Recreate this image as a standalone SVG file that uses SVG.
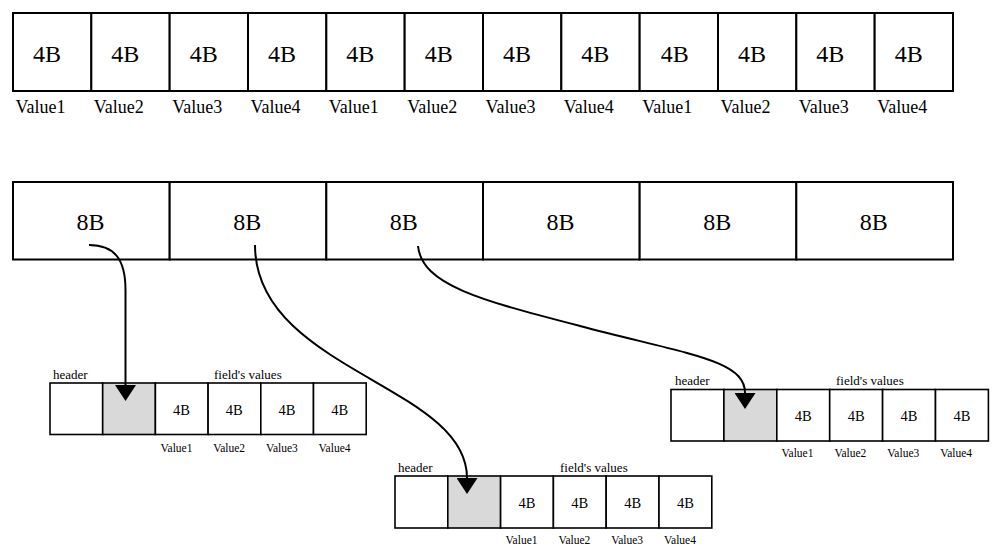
<svg xmlns="http://www.w3.org/2000/svg" width="1002" height="559" viewBox="0 0 1002 559" font-family="Liberation Serif, Times New Roman, serif">
<style>
.cell{fill:#fff;stroke:#000;stroke-width:2}
.sc{fill:#fff;stroke:#000;stroke-width:1.6}
.sg{fill:#d9d9d9;stroke:#000;stroke-width:1.6}
.big{font-size:24px;text-anchor:middle}
.lab{font-size:18px}
.sm{font-size:14.5px;text-anchor:middle}
.slab{font-size:11.5px}
.hd{font-size:13px}
.conn{fill:none;stroke:#000;stroke-width:2}
</style>
<defs>
<marker id="ah" markerUnits="userSpaceOnUse" markerWidth="17" markerHeight="21" viewBox="0 0 17 21" refX="0" refY="10.5" orient="auto">
<path d="M0,0 L16,10.5 L0,21 z" fill="#000"/>
</marker>
</defs>

<g id="row4B">
<g id="c4-1"><rect class="cell" x="13" y="13" width="78.33" height="78"/><text class="big" x="47" y="62">4B</text><text class="lab" x="15.5" y="113">Value1</text></g>
<g id="c4-2"><rect class="cell" x="91.33" y="13" width="78.33" height="78"/><text class="big" x="125.3" y="62">4B</text><text class="lab" x="93.8" y="113">Value2</text></g>
<g id="c4-3"><rect class="cell" x="169.67" y="13" width="78.33" height="78"/><text class="big" x="203.7" y="62">4B</text><text class="lab" x="172.2" y="113">Value3</text></g>
<g id="c4-4"><rect class="cell" x="248" y="13" width="78.33" height="78"/><text class="big" x="282" y="62">4B</text><text class="lab" x="250.5" y="113">Value4</text></g>
<g id="c4-5"><rect class="cell" x="326.33" y="13" width="78.33" height="78"/><text class="big" x="360.3" y="62">4B</text><text class="lab" x="328.8" y="113">Value1</text></g>
<g id="c4-6"><rect class="cell" x="404.67" y="13" width="78.33" height="78"/><text class="big" x="438.7" y="62">4B</text><text class="lab" x="407.2" y="113">Value2</text></g>
<g id="c4-7"><rect class="cell" x="483" y="13" width="78.33" height="78"/><text class="big" x="517" y="62">4B</text><text class="lab" x="485.5" y="113">Value3</text></g>
<g id="c4-8"><rect class="cell" x="561.33" y="13" width="78.33" height="78"/><text class="big" x="595.3" y="62">4B</text><text class="lab" x="563.8" y="113">Value4</text></g>
<g id="c4-9"><rect class="cell" x="639.67" y="13" width="78.33" height="78"/><text class="big" x="674.7" y="62">4B</text><text class="lab" x="642.2" y="113">Value1</text></g>
<g id="c4-10"><rect class="cell" x="718" y="13" width="78.33" height="78"/><text class="big" x="752" y="62">4B</text><text class="lab" x="720.5" y="113">Value2</text></g>
<g id="c4-11"><rect class="cell" x="796.33" y="13" width="78.33" height="78"/><text class="big" x="830.3" y="62">4B</text><text class="lab" x="798.8" y="113">Value3</text></g>
<g id="c4-12"><rect class="cell" x="874.67" y="13" width="78.33" height="78"/><text class="big" x="908.7" y="62">4B</text><text class="lab" x="877.2" y="113">Value4</text></g>
</g>

<g id="row8B">
<g id="c8-1"><rect class="cell" x="13" y="182" width="156.67" height="77.5"/><text class="big" x="90.5" y="230">8B</text></g>
<g id="c8-2"><rect class="cell" x="169.67" y="182" width="156.67" height="77.5"/><text class="big" x="247.2" y="230">8B</text></g>
<g id="c8-3"><rect class="cell" x="326.33" y="182" width="156.67" height="77.5"/><text class="big" x="403.8" y="230">8B</text></g>
<g id="c8-4"><rect class="cell" x="483" y="182" width="156.67" height="77.5"/><text class="big" x="560.5" y="230">8B</text></g>
<g id="c8-5"><rect class="cell" x="639.67" y="182" width="156.67" height="77.5"/><text class="big" x="717.2" y="230">8B</text></g>
<g id="c8-6"><rect class="cell" x="796.33" y="182" width="156.67" height="77.5"/><text class="big" x="873.8" y="230">8B</text></g>
</g>

<g id="obj1">
<text class="hd" x="53" y="378.5">header</text>
<text class="hd" x="214" y="378.5">field's values</text>
<rect class="sc" x="50" y="383" width="52.7" height="51.5"/>
<rect class="sg" x="102.7" y="383" width="52.7" height="51.5"/>
<rect class="sc" x="155.4" y="383" width="52.7" height="51.5"/>
<rect class="sc" x="208.1" y="383" width="52.7" height="51.5"/>
<rect class="sc" x="260.8" y="383" width="52.7" height="51.5"/>
<rect class="sc" x="313.5" y="383" width="52.7" height="51.5"/>
<text class="sm" x="181.5" y="415">4B</text>
<text class="sm" x="234.2" y="415">4B</text>
<text class="sm" x="286.9" y="415">4B</text>
<text class="sm" x="339.6" y="415">4B</text>
<text class="slab" x="160.5" y="451.5">Value1</text>
<text class="slab" x="213.2" y="451.5">Value2</text>
<text class="slab" x="265.9" y="451.5">Value3</text>
<text class="slab" x="318.6" y="451.5">Value4</text>
</g>

<g id="obj2">
<text class="hd" x="398" y="471.5">header</text>
<text class="hd" x="560" y="471.5">field's values</text>
<rect class="sc" x="395" y="476" width="52.8" height="52"/>
<rect class="sg" x="447.8" y="476" width="52.8" height="52"/>
<rect class="sc" x="500.6" y="476" width="52.8" height="52"/>
<rect class="sc" x="553.4" y="476" width="52.8" height="52"/>
<rect class="sc" x="606.2" y="476" width="52.8" height="52"/>
<rect class="sc" x="659" y="476" width="52.8" height="52"/>
<text class="sm" x="527" y="508">4B</text>
<text class="sm" x="579.8" y="508">4B</text>
<text class="sm" x="632.6" y="508">4B</text>
<text class="sm" x="685.4" y="508">4B</text>
<text class="slab" x="505.6" y="543.5">Value1</text>
<text class="slab" x="558.4" y="543.5">Value2</text>
<text class="slab" x="611.2" y="543.5">Value3</text>
<text class="slab" x="664" y="543.5">Value4</text>
</g>

<g id="obj3">
<text class="hd" x="675" y="385">header</text>
<text class="hd" x="836" y="385">field's values</text>
<rect class="sc" x="671" y="389.5" width="52.9" height="51.5"/>
<rect class="sg" x="723.9" y="389.5" width="52.9" height="51.5"/>
<rect class="sc" x="776.8" y="389.5" width="52.9" height="51.5"/>
<rect class="sc" x="829.7" y="389.5" width="52.9" height="51.5"/>
<rect class="sc" x="882.6" y="389.5" width="52.9" height="51.5"/>
<rect class="sc" x="935.5" y="389.5" width="52.9" height="51.5"/>
<text class="sm" x="803.2" y="421">4B</text>
<text class="sm" x="856.1" y="421">4B</text>
<text class="sm" x="909" y="421">4B</text>
<text class="sm" x="961.9" y="421">4B</text>
<text class="slab" x="781.5" y="457">Value1</text>
<text class="slab" x="834.4" y="457">Value2</text>
<text class="slab" x="887.3" y="457">Value3</text>
<text class="slab" x="940.2" y="457">Value4</text>
</g>

<g id="connectors">
<path class="conn" marker-end="url(#ah)" d="M89,245 C115,245 125.5,260 125.5,290 L125.5,385"/>
<path class="conn" marker-end="url(#ah)" d="M255,245 C255,370 467,385 467,478"/>
<path class="conn" marker-end="url(#ah)" d="M418,246 C422,285 480,300 580,326 C690,355 745,360 745,393"/>
</g>
</svg>
